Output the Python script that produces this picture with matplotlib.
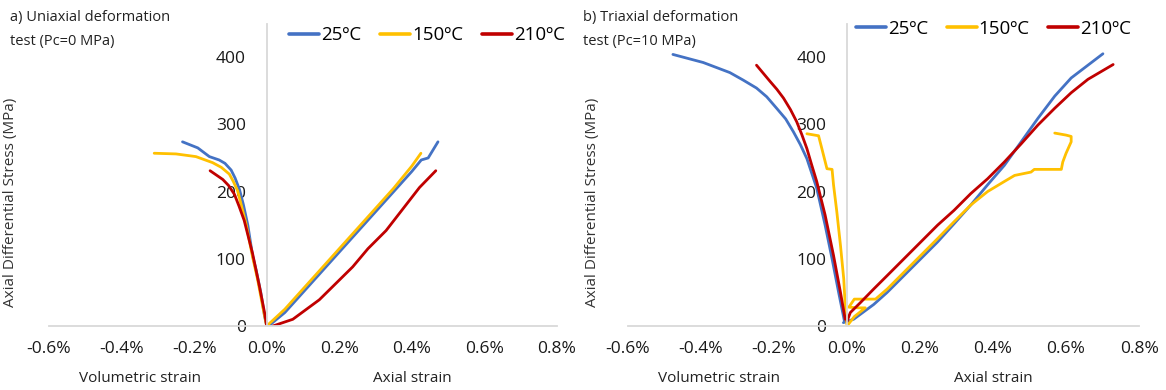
import matplotlib

matplotlib.use("Agg")

import matplotlib.pyplot as plt
import matplotlib.transforms as mtransforms
from matplotlib.ticker import FuncFormatter

plt.rcParams["font.family"] = ["Open Sans", "DejaVu Sans"]

temps = ["25ºC", "150ºC", "210ºC"]
colors = ["#4472C4", "#FFC000", "#C00000"]

# strain in %, stress in MPa
# a) uniaxial, Pc = 0 MPa
uni_ax_x = [
    [0.005, 0.05, 0.10, 0.15, 0.20, 0.25, 0.30, 0.35, 0.40, 0.426, 0.445, 0.472],
    [0.0, 0.05, 0.10, 0.15, 0.20, 0.25, 0.30, 0.35, 0.40, 0.425],
    [0.017, 0.072, 0.145, 0.237, 0.279, 0.329, 0.421, 0.466],
]
uni_ax_y = [
    [0, 20, 50, 80, 110, 140, 170, 200, 230, 247, 250, 274],
    [0, 25, 55, 85, 115, 145, 175, 205, 238, 257],
    [0, 10, 39, 88, 115, 142, 206, 231],
]
uni_vol_x = [
    [0.0, -0.006, -0.016, -0.029, -0.039, -0.052, -0.064, -0.075, -0.087, -0.098,
     -0.115, -0.131, -0.158, -0.19, -0.232],
    [0.0, -0.011, -0.025, -0.039, -0.057, -0.08, -0.092, -0.103, -0.125, -0.149,
     -0.195, -0.25, -0.31],
    [0.0, -0.006, -0.020, -0.039, -0.062, -0.076, -0.089, -0.105, -0.121, -0.156],
]
uni_vol_y = [
    [0, 15, 49, 83, 105, 150, 180, 203, 220, 232, 242, 247, 252, 265, 274],
    [0, 29, 69, 103, 152, 201, 215, 226, 236, 243, 252, 256, 257],
    [0, 20, 59, 108, 157, 178, 196, 209, 218, 231],
]

# b) triaxial, Pc = 10 MPa
tri_ax_x = [
    [-0.01, 0.018, 0.073, 0.11, 0.156, 0.202, 0.248, 0.293, 0.339, 0.385, 0.431,
     0.477, 0.523, 0.569, 0.614, 0.701],
    [0.0, 0.02, 0.05, 0.03, 0.005, 0.02, 0.078, 0.11, 0.156, 0.202, 0.248, 0.293,
     0.339, 0.385, 0.431, 0.459, 0.504, 0.513, 0.587, 0.591, 0.60, 0.614, 0.614,
     0.60, 0.569],
    [0.0, 0.009, 0.037, 0.073, 0.11, 0.156, 0.202, 0.248, 0.293, 0.339, 0.385,
     0.431, 0.477, 0.523, 0.569, 0.614, 0.66, 0.729],
]
tri_ax_y = [
    [5, 10, 32, 50, 75, 100, 125, 152, 180, 210, 239, 274, 309, 342, 369, 405],
    [0, 14, 27, 27, 28, 40, 40, 55, 80, 105, 130, 155, 180, 200, 215, 224, 229,
     233, 233, 244, 257, 274, 282, 284, 287],
    [7, 20, 35, 55, 75, 100, 125, 150, 172, 197, 219, 244, 271, 299, 324, 347,
     367, 389],
]
tri_vol_x = [
    [-0.007, -0.023, -0.041, -0.060, -0.083, -0.110, -0.128, -0.147, -0.168,
     -0.193, -0.22, -0.248, -0.285, -0.321, -0.394, -0.477],
    [0.0, -0.005, -0.009, -0.018, -0.028, -0.037, -0.041, -0.055, -0.069,
     -0.078, -0.110],
    [-0.005, -0.018, -0.037, -0.060, -0.083, -0.097, -0.110, -0.124, -0.138,
     -0.155, -0.174, -0.192, -0.211, -0.248],
]
tri_vol_y = [
    [7, 50, 100, 150, 205, 249, 270, 289, 308, 324, 341, 354, 366, 377, 392, 404],
    [0, 30, 70, 120, 170, 210, 233, 234, 264, 283, 286],
    [10, 50, 105, 165, 215, 240, 264, 285, 304, 322, 339, 352, 364, 388],
]

x_ticks = [-0.6, -0.4, -0.2, 0.0, 0.2, 0.4, 0.6, 0.8]
y_ticks = [0, 100, 200, 300, 400]

panels = [
    ("a) Uniaxial deformation\ntest (Pc=0 MPa)", uni_ax_x, uni_ax_y, uni_vol_x, uni_vol_y),
    ("b) Triaxial deformation\ntest (Pc=10 MPa)", tri_ax_x, tri_ax_y, tri_vol_x, tri_vol_y),
]
axes_rects = [
    [0.0420, 0.1641, 0.4357, 0.7756],
    [0.5386, 0.1641, 0.4383, 0.7756],
]
title_x = [0.009, 0.500]
legend_pos = [(0.248, 0.910), (0.734, 0.926)]
ylabel_x = [-0.061, -0.055]

fig = plt.figure(figsize=(11.66, 3.9), dpi=100)
grey = "#D9D9D9"

for i, (title, ax_x, ax_y, vol_x, vol_y) in enumerate(panels):
    ax = fig.add_axes(axes_rects[i])
    for k in range(3):
        ax.plot(ax_x[k], ax_y[k], color=colors[k], lw=2.0, label=temps[k],
                solid_joinstyle="round", solid_capstyle="round")
        ax.plot(vol_x[k], vol_y[k], color=colors[k], lw=2.0,
                solid_joinstyle="round", solid_capstyle="round")

    ax.set_xlim(-0.6, 0.8)
    ax.set_ylim(0, 450)
    ax.set_xticks(x_ticks)
    ax.set_yticks(y_ticks)
    ax.xaxis.set_major_formatter(FuncFormatter(lambda v, p: f"{v:.1f}%"))

    ax.spines["left"].set_position(("data", 0))
    for side in ("left", "bottom"):
        ax.spines[side].set_color(grey)
        ax.spines[side].set_linewidth(1.3)
    for side in ("top", "right"):
        ax.spines[side].set_visible(False)
    ax.tick_params(axis="x", length=0, pad=11, labelsize=12.5, labelcolor="#1a1a1a")
    ax.tick_params(axis="y", length=0, pad=15, labelsize=12.5, labelcolor="#1a1a1a")
    ax.set_zorder(1)

    ax.set_ylabel("Axial Differential Stress (MPa)", fontsize=11, color="#333333")
    ax.yaxis.set_label_coords(ylabel_x[i], 0.41)

    trans = mtransforms.blended_transform_factory(ax.transData, ax.transAxes)
    ax.text(-0.35, -0.175, "Volumetric strain", transform=trans, ha="center",
            va="center", fontsize=11, color="#222222")
    ax.text(0.40, -0.175, "Axial strain", transform=trans, ha="center",
            va="center", fontsize=11, color="#222222")

    fig.text(title_x[i], 0.975, title, ha="left", va="top", fontsize=10.5,
             color="#222222", linespacing=1.85)

    leg = ax.legend(loc="center left", bbox_to_anchor=legend_pos[i],
                    bbox_transform=fig.transFigure, ncol=3, frameon=False,
                    fontsize=13.5, handlelength=1.6, handletextpad=0.1,
                    columnspacing=1.0, borderpad=0, borderaxespad=0)
    for line in leg.get_lines():
        line.set_linewidth(2.6)

fig.savefig("out.png", dpi=100, facecolor="white")
